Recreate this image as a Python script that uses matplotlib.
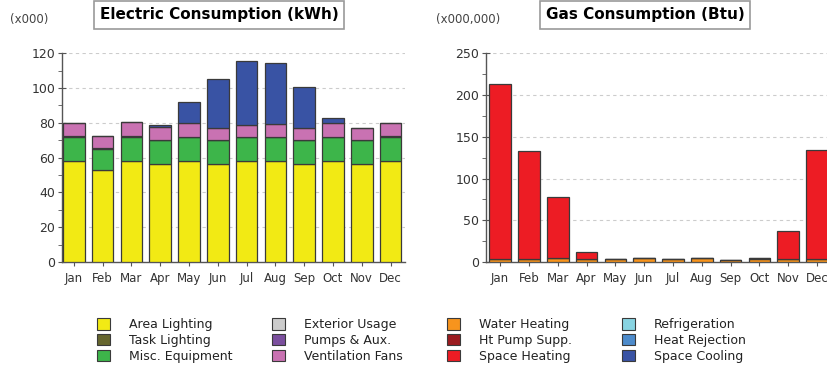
#!/usr/bin/env python

import numpy as np
from matplotlib import pyplot as plt
from matplotlib.patches import Patch
from matplotlib.ticker import MultipleLocator

months = ['Jan', 'Feb', 'Mar', 'Apr', 'May', 'Jun',
          'Jul', 'Aug', 'Sep', 'Oct', 'Nov', 'Dec']

# electric end uses, thousands of kWh
area_lighting = [58, 52.7, 58, 56.4, 58, 56.4, 58, 58, 56.4, 58, 56.4, 58]
misc_equipment = [14, 12.1, 14, 13.6, 14, 13.6, 14, 14, 13.6, 14, 13.6, 14]
task_lighting = [0.5, 0.8, 0.5, 0, 0, 0, 0, 0, 0, 0, 0, 0.5]
vent_fans = [7.3, 6.8, 8.2, 7.5, 8, 6.9, 6.8, 7.2, 7.2, 8, 7.2, 7.5]
space_cooling = [0, 0, 0, 1.3, 11.8, 28.1, 37, 35, 23.6, 2.6, 0, 0]

# gas end uses, millions of Btu
water_heating = [4, 4, 4.8, 4, 4, 4.8, 4, 4.8, 2.8, 3.3, 4, 4]
ht_pump_supp = [0, 0, 0, 0, 0, 0, 0, 0, 0, 1.5, 0, 0]
space_heating = [208.8, 128.6, 73, 8, 0, 0, 0, 0, 0, 0, 33, 130.5]

legend_labels = ['Area Lighting', 'Task Lighting', 'Misc. Equipment',
                 'Exterior Usage', 'Pumps & Aux.', 'Ventilation Fans',
                 'Water Heating', 'Ht Pump Supp.', 'Space Heating',
                 'Refrigeration', 'Heat Rejection', 'Space Cooling']
legend_colors = ['#F2EA14', '#66662E', '#3DB54A',
                 '#CCCCCC', '#7B4F9E', '#C972B2',
                 '#F7941D', '#9B1B1F', '#ED1C24',
                 '#88D4E2', '#4D8BCB', '#3953A4']
colors = dict(zip(legend_labels, legend_colors))

plt.rcParams['font.family'] = ['DejaVu Sans']
fig = plt.figure(figsize=(8.27, 3.67), dpi=100)

x = np.arange(len(months))
bar_w = 0.75


def stacked(ax, series):
  bottom = np.zeros(len(months))
  for name, vals in series:
    vals = np.array(vals, dtype=float)
    ax.bar(x, vals, bar_w, bottom=bottom, color=colors[name],
           edgecolor='#3a3a3a', linewidth=0.9, zorder=3)
    bottom += vals


def style(ax, ymax, step):
  ax.set_ylim(0, ymax)
  ax.yaxis.set_major_locator(MultipleLocator(step))
  ax.yaxis.set_minor_locator(MultipleLocator(step / 2))
  ax.set_xticks(x)
  ax.set_xticklabels(months)
  ax.grid(axis='y', linestyle=(0, (3, 3)), color='#cccccc', linewidth=0.8, zorder=0)
  for s in ['top', 'right']:
    ax.spines[s].set_visible(False)
  for s in ['left', 'bottom']:
    ax.spines[s].set_color('#555555')
    ax.spines[s].set_linewidth(1.0)
  ax.tick_params(axis='y', which='major', direction='inout', length=6,
                 color='#555555', labelsize=9, labelcolor='#333333', pad=2)
  ax.tick_params(axis='y', which='minor', direction='out', length=3, color='#555555')
  ax.tick_params(axis='x', direction='out', length=3, color='#555555',
                 labelsize=8.5, labelcolor='#333333', pad=4)


ax1 = fig.add_axes([62 / 827, 105 / 367, 343 / 827, 208.7 / 367])
stacked(ax1, [('Area Lighting', area_lighting),
              ('Misc. Equipment', misc_equipment),
              ('Task Lighting', task_lighting),
              ('Ventilation Fans', vent_fans),
              ('Space Cooling', space_cooling)])
style(ax1, 120, 20)
ax1.set_xlim(-0.41, 11.5)

ax2 = fig.add_axes([486 / 827, 105 / 367, 345.6 / 827, 208.7 / 367])
stacked(ax2, [('Water Heating', water_heating),
              ('Ht Pump Supp.', ht_pump_supp),
              ('Space Heating', space_heating)])
style(ax2, 250, 50)
ax2.set_xlim(-0.49, 11.51)

box = dict(boxstyle='square,pad=0.4', facecolor='white', edgecolor='#9a9a9a', linewidth=1.2)
fig.text(219 / 827, 1 - 15 / 367, 'Electric Consumption (kWh)', ha='center', va='center',
         fontsize=11, fontweight='bold', color='#000000', bbox=box)
fig.text(645 / 827, 1 - 15 / 367, 'Gas Consumption (Btu)', ha='center', va='center',
         fontsize=11, fontweight='bold', color='#000000', bbox=box)
fig.text(10 / 827, 1 - 19 / 367, '(x000)', ha='left', va='center', fontsize=8.5, color='#444444')
fig.text(436 / 827, 1 - 19 / 367, '(x000,000)', ha='left', va='center', fontsize=8.5, color='#444444')

# legend in four separate columns
handles = [Patch(facecolor=c, edgecolor='#3a3a3a', linewidth=0.8) for c in legend_colors]
col_x = [97, 272, 447, 622]
for i, cx in enumerate(col_x):
  leg = fig.legend(handles[3 * i:3 * i + 3], legend_labels[3 * i:3 * i + 3],
                   loc='upper left', bbox_to_anchor=(cx / 827, 1 - 318 / 367),
                   frameon=False, fontsize=9, handlelength=1.05, handleheight=1.05,
                   handletextpad=1.5, labelspacing=0.22, borderpad=0, borderaxespad=0)
  for t in leg.get_texts():
    t.set_color('#222222')

fig.savefig('out.png', dpi=100)
